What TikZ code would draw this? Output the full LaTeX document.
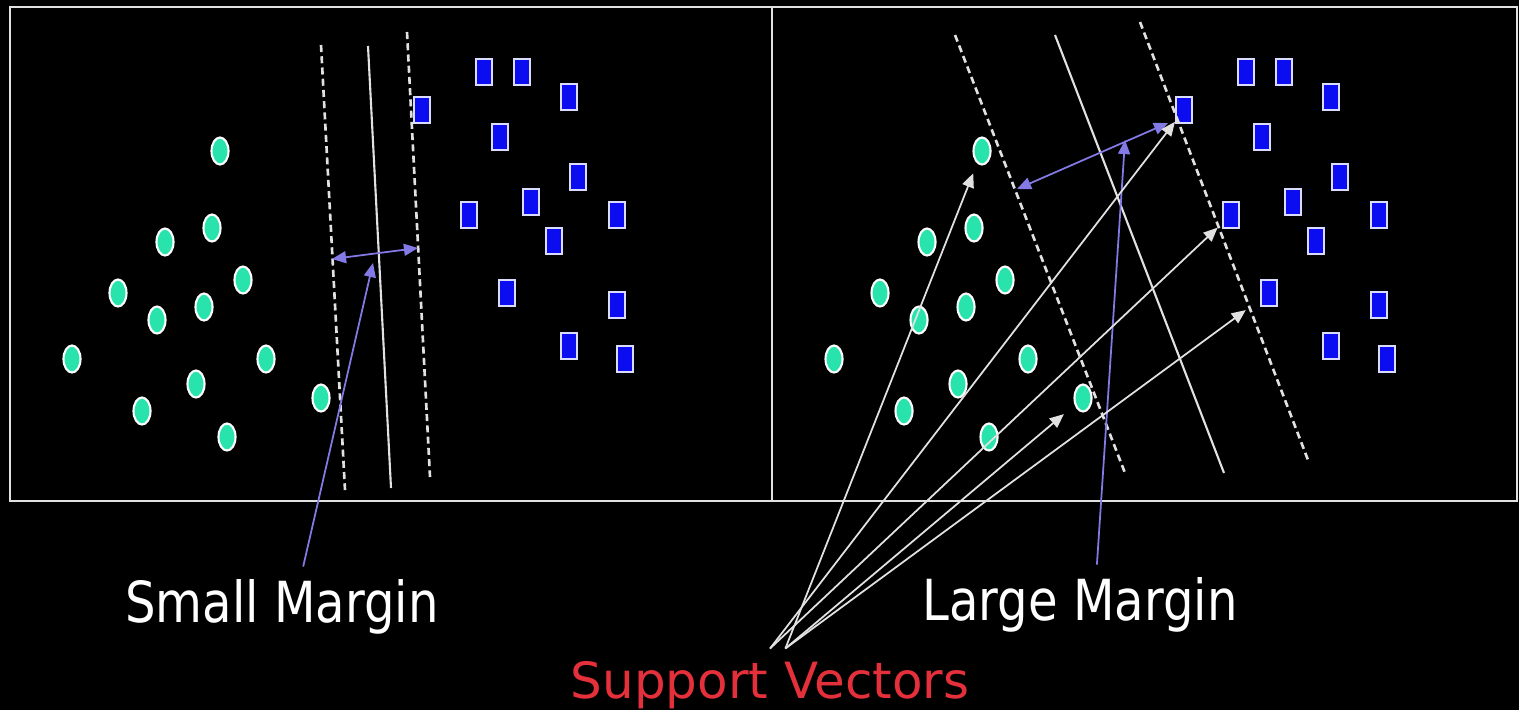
\documentclass[tikz,border=0pt]{standalone}
\usepackage{fontspec}
\setmainfont{DejaVu Sans}
\newfontfamily\narrowsans{DejaVu Sans}[FakeStretch=0.85]
\usetikzlibrary{shapes.geometric,arrows.meta}

\definecolor{dotgreen}{RGB}{40,228,172}
\definecolor{boxblue}{RGB}{12,12,240}
\definecolor{pointblue}{RGB}{132,122,230}
\definecolor{svred}{RGB}{228,48,58}
\definecolor{chalk}{RGB}{225,225,225}

\tikzset{
	dotA/.style={ellipse, draw=white, fill=dotgreen, line width=0.6pt,
		minimum width=0.17cm, minimum height=0.27cm, inner sep=0pt},
	boxB/.style={rectangle, draw=white!85!boxblue, fill=boxblue, line width=0.6pt,
		minimum width=0.16cm, minimum height=0.26cm, inner sep=0pt},
	frame/.style={chalk, line width=0.6pt},
	plane/.style={chalk, line width=0.6pt},
	slab/.style={plane, line width=0.75pt, dash pattern=on 2pt off 1.2pt},
	gap/.style={pointblue, line width=0.5pt,
		{Triangle[length=4pt,width=3.4pt]}-{Triangle[length=4pt,width=3.4pt]}},
	pointer/.style={pointblue, line width=0.5pt, -{Triangle[length=4pt,width=3.4pt]}},
	svarrow/.style={chalk, line width=0.5pt, -{Triangle[length=4pt,width=3.4pt]}},
	marginlabel/.style={text=white, anchor=base, font=\fontsize{16.1}{19}\narrowsans},
	svlabel/.style={text=svred, anchor=base, font=\fontsize{14.2}{17}\selectfont}
}

\begin{document}
\begin{tikzpicture}[x=0.01cm, y=-0.01cm]
	% black page, two panels
	\fill[black] (0,0) rectangle (1519,710);
	\draw[frame] (10,7) rectangle (1517,501);
	\draw[frame] (772,7) -- (772,501);

	% the same two classes in both panels
	\foreach \p/\dx in {L/0, R/762} {
		\begin{scope}[shift={(\dx,0)}]
			\foreach \x/\y [count=\i] in {220/151, 212/228, 165/242, 118/293, 243/280,
					204/307, 157/320, 72/359, 266/359, 196/384, 142/411, 227/437, 321/398}
				\node[dotA] (\p a\i) at (\x,\y) {};
			\foreach \x/\y [count=\i] in {484/72, 522/72, 569/97, 422/110, 500/137,
					578/177, 531/202, 469/215, 617/215, 554/241, 507/293, 617/305,
					569/346, 625/359}
				\node[boxB] (\p b\i) at (\x,\y) {};
		\end{scope}
	}

	% narrow separator
	\draw[slab] (321,45) -- (345,490);
	\draw[plane] (368,46) -- (391,488);
	\draw[slab] (407,32) -- (430,477);
	\coordinate (Lm1) at (332,259);
	\coordinate (Lm2) at (418,248);
	\draw[gap] (Lm1) -- (Lm2);

	% wide separator
	\draw[slab] (955,35) -- (1125,473);
	\draw[plane] (1055,35) -- (1224,473);
	\draw[slab] (1140,22) -- (1308,460);
	\coordinate (Rm1) at (1017,189);
	\coordinate (Rm2) at (1168,123);
	\draw[gap] (Rm1) -- (Rm2);

	% labels
	\node[marginlabel] (small) at (282,622) {Small Margin};
	\node[marginlabel] (large) at (1080,620) {Large Margin};
	\node[svlabel] (sv) at (770,698) {Support Vectors};

	\coordinate (Lw) at (373,263);
	\coordinate (Rw) at (1125,140);
	\draw[pointer] (small.62) -- (Lw);
	\draw[pointer] (large.67) -- (Rw);

	% arrows to the support vectors
	\draw[svarrow] (sv.north) -- (Rb4);
	\draw[svarrow, shorten >=1.7pt] (sv.north) -- (Rb8);
	\draw[svarrow, shorten >=3pt] (sv.67) -- (Ra1);
	\draw[svarrow, shorten >=5pt] (sv.67) -- (Rb11);
	\draw[svarrow, shorten >=4pt] (sv.67) -- (Ra13);
\end{tikzpicture}
\end{document}
